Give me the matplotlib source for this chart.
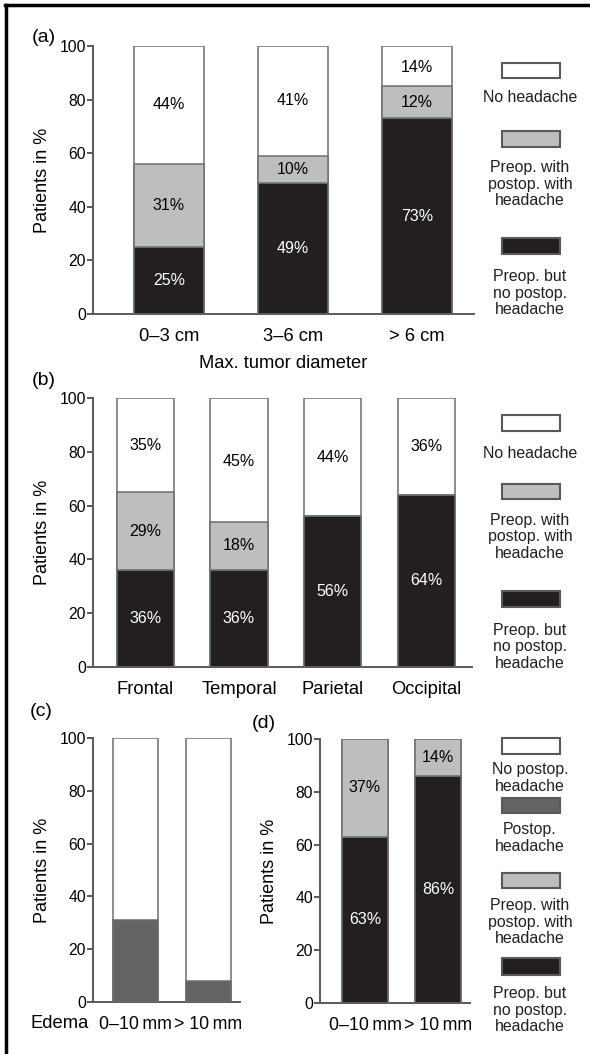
import matplotlib
matplotlib.use('Agg')
import matplotlib.pyplot as plt
from matplotlib.patches import Rectangle
from matplotlib.lines import Line2D

plt.rcParams['font.family'] = ['Liberation Sans', 'DejaVu Sans']

#%% data
a_cats = ['0–3 cm', '3–6 cm', '> 6 cm']
a_no_postop = [25, 49, 73]      # preop. but no postop. headache
a_with_postop = [31, 10, 12]    # preop. with postop. with headache
a_no_headache = [44, 41, 14]
a_total = [100, 100, 100]

b_cats = ['Frontal', 'Temporal', 'Parietal', 'Occipital']
b_no_postop = [36, 36, 56, 64]
b_with_postop = [29, 18, 0, 0]
b_no_headache = [35, 45, 44, 36]
b_total = [100, 100, 100, 100]

c_cats = ['0–10\u2009mm', '> 10\u2009mm']
c_postop = [31, 8]
c_total = [100, 100]

d_cats = ['0–10\u2009mm', '> 10\u2009mm']
d_no_postop = [63, 86]
d_with_postop = [37, 14]
d_total = [100, 100]

BLACK = '#231f20'
GRAY = '#bcbec0'
DARK = '#636466'
EDGE = '#6d6e70'
SPINE = '#58595b'

W, H = 590, 1054
fig = plt.figure(figsize=(W / 100, H / 100), dpi=100)


def fx(x):
  return x / W


def fy(y):
  return 1 - y / H


def make_axes(left, right, top, bottom, xlim):
  ax = fig.add_axes([fx(left), fy(bottom), fx(right - left), (bottom - top) / H])
  ax.set_ylim(0, 100)
  ax.set_xlim(*xlim)
  for s in ['top', 'right']:
    ax.spines[s].set_visible(False)
  for s in ['left', 'bottom']:
    ax.spines[s].set_color(SPINE)
    ax.spines[s].set_linewidth(1.4)
  ax.set_yticks([0, 20, 40, 60, 80, 100])
  ax.tick_params(axis='y', length=4, width=1.4, color=SPINE, labelsize=11.3, pad=1)
  ax.tick_params(axis='x', length=0, labelsize=13.2, pad=10)
  ax.set_facecolor('none')
  return ax


def pct(ax, x, y, v, color):
  if v > 0:
    ax.text(x, y, '%d%%' % v, ha='center', va='center', fontsize=11.5, color=color)


def stacked(ax, cats, black, gray, white, total, width):
  xs = list(range(len(cats)))
  ax.bar(xs, total, width, color='white', edgecolor=EDGE, linewidth=1.1, zorder=2)
  ax.bar(xs, black, width, color=BLACK, edgecolor=EDGE, linewidth=1.1, zorder=3)
  ax.bar(xs, gray, width, bottom=black, color=GRAY, edgecolor=EDGE, linewidth=1.1, zorder=3)
  for i in xs:
    pct(ax, i, black[i] / 2, black[i], 'white')
    pct(ax, i, black[i] + gray[i] / 2, gray[i], 'black')
    if white is not None:
      base = black[i] + gray[i]
      pct(ax, i, base + white[i] / 2, white[i], 'black')
  ax.set_xticks(xs)
  ax.set_xticklabels(cats)


def legend(items):
  # items: (patch top y, patch bottom y, colour, text, text centre y)
  for top, bot, col, txt, ty in items:
    fig.patches.append(Rectangle((fx(502), fy(bot)), fx(58), (bot - top) / H,
                                 transform=fig.transFigure, facecolor=col,
                                 edgecolor=SPINE, linewidth=1.5))
    fig.text(fx(530), fy(ty), txt, ha='center', va='center', fontsize=11.4,
             linespacing=1.1, color='#231f20')


#%% panel (a)
ax_a = make_axes(93, 474, 46, 314, (-0.613, 2.46))
stacked(ax_a, a_cats, a_no_postop, a_with_postop, a_no_headache, a_total, 0.57)
ax_a.set_ylabel('Patients in %', fontsize=13, labelpad=6)
ax_a.set_xlabel('Max. tumor diameter', fontsize=13.2, labelpad=7)
fig.text(fx(32), fy(38), '(a)', fontsize=14, va='center')
legend([(63, 78, 'white', 'No headache', 98),
        (131, 147, GRAY, 'Preop. with\npostop. with\nheadache', 184),
        (238, 254, BLACK, 'Preop. but\nno postop.\nheadache', 293)])

#%% panel (b)
ax_b = make_axes(93, 472, 398, 667, (-0.56, 3.49))
stacked(ax_b, b_cats, b_no_postop, b_with_postop, b_no_headache, b_total, 0.61)
ax_b.set_ylabel('Patients in %', fontsize=13, labelpad=6)
fig.text(fx(32), fy(380), '(b)', fontsize=14, va='center')
legend([(415, 431, 'white', 'No headache', 453),
        (484, 499, GRAY, 'Preop. with\npostop. with\nheadache', 537),
        (591, 607, BLACK, 'Preop. but\nno postop.\nheadache', 647)])

#%% panel (c)
ax_c = make_axes(93, 240, 738, 1002, (-0.58, 1.43))
xs = list(range(len(c_cats)))
ax_c.bar(xs, c_total, 0.62, color='white', edgecolor=EDGE, linewidth=1.1, zorder=2)
ax_c.bar(xs, c_postop, 0.62, color=DARK, edgecolor=EDGE, linewidth=1.1, zorder=3)
ax_c.set_xticks(xs)
ax_c.set_xticklabels(c_cats)
ax_c.tick_params(axis='x', labelsize=12.8)
ax_c.set_ylabel('Patients in %', fontsize=13, labelpad=6)
fig.text(fx(30), fy(1023), 'Edema', fontsize=13.2, va='center')
fig.text(fx(30), fy(711), '(c)', fontsize=14, va='center')

#%% panel (d)
ax_d = make_axes(320, 470, 739, 1003, (-0.616, 1.44))
stacked(ax_d, d_cats, d_no_postop, d_with_postop, None, d_total, 0.63)
ax_d.tick_params(axis='x', labelsize=12.8)
ax_d.set_ylabel('Patients in %', fontsize=13, labelpad=6)
fig.text(fx(252), fy(723), '(d)', fontsize=14, va='center')
legend([(738, 754, 'white', 'No postop.\nheadache', 778),
        (798, 813, DARK, 'Postop.\nheadache', 838),
        (873, 888, GRAY, 'Preop. with\npostop. with\nheadache', 922),
        (958, 975, BLACK, 'Preop. but\nno postop.\nheadache', 1010)])

# frame lines on top and left edge
fig.add_artist(Line2D([fx(5), fx(589)], [fy(5), fy(5)], color='black', lw=2.5))
fig.add_artist(Line2D([fx(6), fx(6)], [fy(5), fy(1054)], color='black', lw=2.5))

fig.savefig('out.png', dpi=100)
